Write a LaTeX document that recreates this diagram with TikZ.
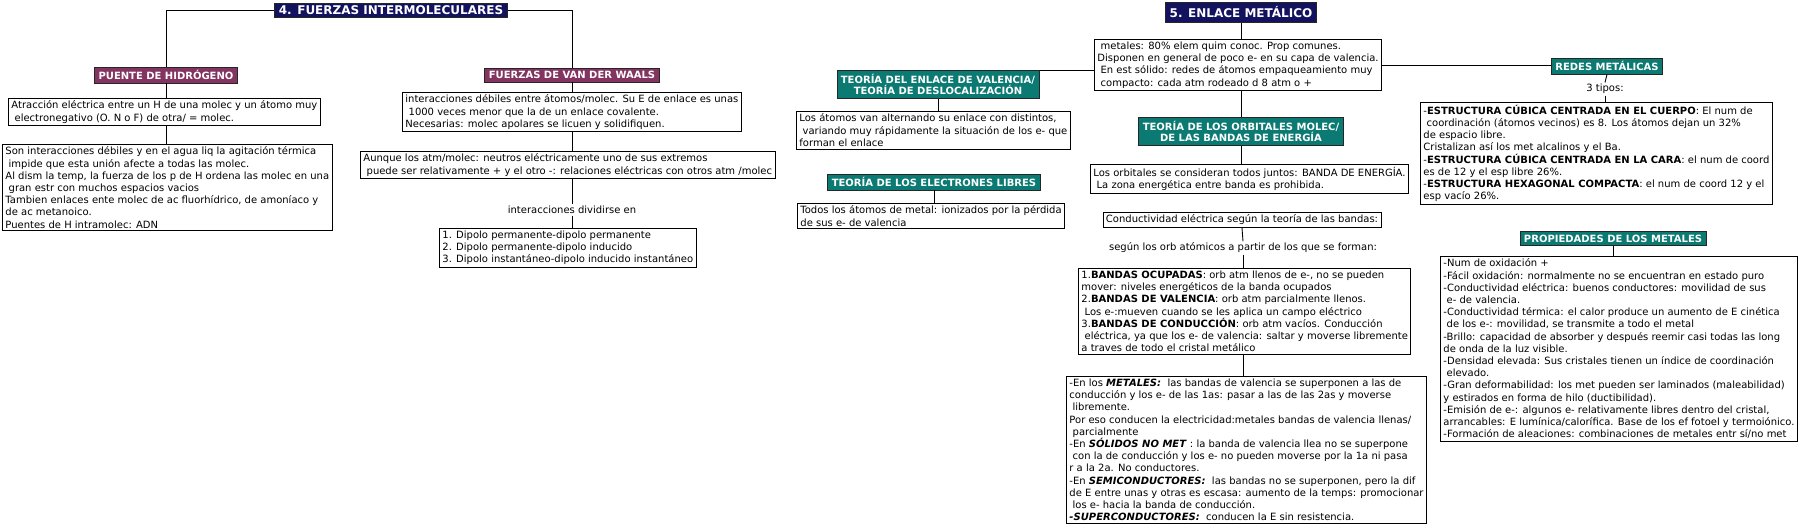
\documentclass[tikz,border=0pt]{standalone}
\usepackage{fontspec}
\setmainfont{DejaVu Sans}
\usepackage{tikz}
\usetikzlibrary{positioning,calc}
\definecolor{titleNavy}{HTML}{12125E}
\definecolor{fuerzaPurple}{HTML}{843460}
\definecolor{enlaceTeal}{HTML}{0B7A72}
\newcommand{\lsp}{\hspace*{3.2pt}}
\tikzset{
  txtbox/.style={draw=black, line width=0.9pt, fill=white, align=left, inner xsep=3pt, inner ysep=2.5pt, font=\fontsize{10}{12.2}\selectfont},
  hdrbox/.style={draw=black!85, line width=0.8pt, text=white, align=center, inner xsep=4pt, inner ysep=3.3pt, font=\bfseries\fontsize{10}{11.6}\selectfont},
  purplehdr/.style={hdrbox, fill=fuerzaPurple},
  tealhdr/.style={hdrbox, fill=enlaceTeal},
  titlebox/.style={hdrbox, fill=titleNavy, font=\bfseries\fontsize{12}{14}\selectfont},
  lbl/.style={font=\fontsize{10}{12}\selectfont, inner sep=1.5pt},
  link/.style={line width=0.9pt}
}

\begin{document}
\begin{tikzpicture}[x=1pt, y=-1pt]
\useasboundingbox (0,0) rectangle (1802,527);
% 4. fuerzas intermoleculares
\node[titlebox, inner ysep=2.5pt] (fuerzas) at (391,10) {4. FUERZAS INTERMOLECULARES};
\node[purplehdr] (puente) at (166,75) {PUENTE DE HIDRÓGENO};
\node[txtbox, anchor=north west] (atraccion) at (8,98) {Atracción eléctrica entre un H de una molec y un átomo muy\\\lsp electronegativo (O. N o F) de otra/ = molec.};
\node[txtbox, anchor=north west] (debiles) at (2,144) {Son interacciones débiles y en el agua liq la agitación térmica\\\lsp impide que esta unión afecte a todas las molec.\\Al dism la temp, la fuerza de los p de H ordena las molec en una\\\lsp gran estr con muchos espacios vacios\\Tambien enlaces ente molec de ac fluorhídrico, de amoníaco y\\de ac metanoico.\\Puentes de H intramolec: ADN};
\node[purplehdr] (vanderwaals) at (572,75) {FUERZAS DE VAN DER WAALS};
\node[txtbox, anchor=north west] (vdwtxt) at (402,92) {interacciones débiles entre átomos/molec. Su E de enlace es unas\\\lsp 1000 veces menor que la de un enlace covalente.\\Necesarias: molec apolares se licuen y solidifiquen.};
\node[txtbox, anchor=north west] (aunque) at (360,151) {Aunque los atm/molec: neutros eléctricamente uno de sus extremos\\\lsp puede ser relativamente + y el otro -: relaciones eléctricas con otros atm /molec};
\node[lbl] (dividir) at (572,210) {interacciones dividirse en};
\node[txtbox, anchor=north west] (dipolos) at (439,228) {1. Dipolo permanente-dipolo permanente\\2. Dipolo permanente-dipolo inducido\\3. Dipolo instantáneo-dipolo inducido instantáneo};
\draw[link] (fuerzas.west) -| (puente.north);
\draw[link] (fuerzas.east) -| (vanderwaals.north);
\draw[link] (puente.south) -- (puente.south |- atraccion.north);
\draw[link] (puente.south |- atraccion.south) -- (puente.south |- debiles.north);
\draw[link] (vanderwaals.south) -- (vanderwaals.south |- vdwtxt.north);
\draw[link] (vanderwaals.south |- vdwtxt.south) -- (vanderwaals.south |- aunque.north);
\draw[link] (vanderwaals.south |- aunque.south) -- (dividir.north);
\draw[link] (dividir.south) -- (dividir.south |- dipolos.north);
% 5. enlace metalico
\node[titlebox, inner ysep=4.5pt] (enlace) at (1241,12.5) {5. ENLACE METÁLICO};
\node[txtbox, anchor=north west] (metales) at (1094,39) {\lsp metales: 80\% elem quim conoc. Prop comunes.\\Disponen en general de poco e- en su capa de valencia.\\\lsp En est sólido: redes de átomos empaqueamiento muy\\\lsp compacto: cada atm rodeado d 8 atm o +};
\node[tealhdr] (valencia) at (938,84.5) {TEORÍA DEL ENLACE DE VALENCIA/\\TEORÍA DE DESLOCALIZACIÓN};
\node[txtbox, anchor=north west] (alternando) at (796,111) {Los átomos van alternando su enlace con distintos,\\\lsp variando muy rápidamente la situación de los e- que\\forman el enlace};
\node[tealhdr] (libres) at (934,182) {TEORÍA DE LOS ELECTRONES LIBRES};
\node[txtbox, anchor=north west] (ionizados) at (797,203) {Todos los átomos de metal: ionizados por la pérdida\\de sus e- de valencia};
\node[tealhdr] (orbitales) at (1241,131.5) {TEORÍA DE LOS ORBITALES MOLEC/\\DE LAS BANDAS DE ENERGÍA};
\node[txtbox, anchor=north west] (juntos) at (1090,164) {Los orbitales se consideran todos juntos: BANDA DE ENERGÍA.\\\lsp La zona energética entre banda es prohibida.};
\node[txtbox] (conductividad) at (1242,220) {Conductividad eléctrica según la teoría de las bandas:};
\node[lbl] (segun) at (1243,248) {según los orb atómicos a partir de los que se forman:};
\node[txtbox, anchor=north west] (bandas) at (1078,268) {1.\textbf{BANDAS OCUPADAS}: orb atm llenos de e-, no se pueden\\mover: niveles energéticos de la banda ocupados\\2.\textbf{BANDAS DE VALENCIA}: orb atm parcialmente llenos.\\\lsp Los e-:mueven cuando se les aplica un campo eléctrico\\3.\textbf{BANDAS DE CONDUCCIÓN}: orb atm vacíos. Conducción\\\lsp eléctrica, ya que los e- de valencia: saltar y moverse libremente\\a traves de todo el cristal metálico};
\node[txtbox, anchor=north west] (tipossolidos) at (1066,376) {-En los \textbf{\textit{METALES:}}\ \ las bandas de valencia se superponen a las de\\conducción y los e- de las 1as: pasar a las de las 2as y moverse\\\lsp libremente.\\Por eso conducen la electricidad:metales bandas de valencia llenas/\\\lsp parcialmente\\-En \textbf{\textit{SÓLIDOS NO MET}} : la banda de valencia llea no se superpone\\\lsp con la de conducción y los e- no pueden moverse por la 1a ni pasa\\r a la 2a. No conductores.\\-En \textbf{\textit{SEMICONDUCTORES:}}\ \ las bandas no se superponen, pero la dif\\de E entre unas y otras es escasa: aumento de la temps: promocionar\\\lsp los e- hacia la banda de conducción.\\\textbf{\textit{-SUPERCONDUCTORES:}}\ \ conducen la E sin resistencia.};
\node[tealhdr] (redes) at (1607,66) {REDES METÁLICAS};
\node[lbl] (tipos) at (1605,89) {3 tipos:};
\node[txtbox, anchor=north west] (estructuras) at (1420,102) {-\textbf{ESTRUCTURA CÚBICA CENTRADA EN EL CUERPO}: El num de\\\lsp coordinación (átomos vecinos) es 8. Los átomos dejan un 32\%\\de espacio libre.\\Cristalizan así los met alcalinos y el Ba.\\-\textbf{ESTRUCTURA CÚBICA CENTRADA EN LA CARA}: el num de coord\\es de 12 y el esp libre 26\%.\\-\textbf{ESTRUCTURA HEXAGONAL COMPACTA}: el num de coord 12 y el\\esp vacío 26\%.};
\node[tealhdr] (propiedades) at (1613,238.5) {PROPIEDADES DE LOS METALES};
\node[txtbox, anchor=north west] (proptxt) at (1440,256) {-Num de oxidación +\\-Fácil oxidación: normalmente no se encuentran en estado puro\\-Conductividad eléctrica: buenos conductores: movilidad de sus\\\lsp e- de valencia.\\-Conductividad térmica: el calor produce un aumento de E cinética\\\lsp de los e-: movilidad, se transmite a todo el metal\\-Brillo: capacidad de absorber y después reemir casi todas las long\\de onda de la luz visible.\\-Densidad elevada: Sus cristales tienen un índice de coordinación\\\lsp elevado.\\-Gran deformabilidad: los met pueden ser laminados (maleabilidad)\\y estirados en forma de hilo (ductibilidad).\\-Emisión de e-: algunos e- relativamente libres dentro del cristal,\\arrancables: E lumínica/calorífica. Base de los ef fotoel y termoiónico.\\-Formación de aleaciones: combinaciones de metales entr sí/no met};
\draw[link] (enlace.south) -- (enlace.south |- metales.north);
\draw[link] (valencia.north east) -- (valencia.north east -| metales.west);
\draw[link] (metales.east) -- (metales.east -| redes.west);
\draw[link] (valencia.south) -- (valencia.south |- alternando.north);
\draw[link] (libres.south) -- (libres.south |- ionizados.north);
\draw[link] (orbitales.north |- metales.south) -- (orbitales.north);
\draw[link] (orbitales.south) -- (orbitales.south |- juntos.north);
\draw[link] (conductividad.south) -- (segun.north);
\draw[link] (segun.south) -- (segun.south |- bandas.north);
\draw[link] (segun.south |- bandas.south) -- (segun.south |- tipossolidos.north);
\draw[link] (redes.south) -- (tipos.north);
\draw[link] (tipos.south) -- (tipos.south |- estructuras.north);
\draw[link] (propiedades.south) -- (propiedades.south |- proptxt.north);
\end{tikzpicture}
\end{document}
